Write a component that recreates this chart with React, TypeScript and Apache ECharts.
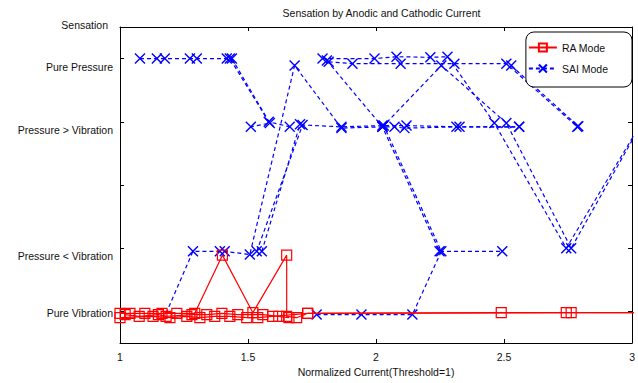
import React, { useEffect, useRef } from 'react';
import * as echarts from 'echarts';

// ---- axis definitions ----
const xMin = 1;
const xMax = 3;
const xInterval = 0.5;
const sensationTicks = [1, 2, 3, 4, 5];
const sensationLabels = ['Pure Vibration', 'Pressure < Vibration', '', 'Pressure > Vibration', 'Pure Pressure'];

// ---- RA Mode trials: [normalized current, sensation] ----
const raTrial1 = [
  [1.0, 0.97], [1.039, 0.97], [1.097, 0.97], [1.164, 0.97], [1.222, 0.97], [1.292, 0.97],
  [1.40, 1.89], [1.519, 0.98], [1.651, 1.89], [1.651, 0.92], [1.69, 0.9], [1.733, 0.97],
  [2.489, 0.98], [2.743, 0.98], [3.1, 0.98],
];
const raTrial2 = [
  [1.0, 0.9], [1.129, 0.92], [1.195, 0.9], [1.261, 0.92], [1.312, 0.9], [1.37, 0.92],
  [1.429, 0.92], [1.495, 0.9], [1.538, 0.9], [1.596, 0.92], [1.733, 0.97], [2.762, 0.98], [3.1, 0.98],
];
const raTrial3 = [
  [1.02, 0.95], [1.075, 0.92], [1.15, 0.95], [1.18, 0.92], [1.281, 0.95], [1.339, 0.95],
  [1.398, 0.97], [1.46, 0.95], [1.558, 0.95], [1.62, 0.92], [1.66, 0.9],
];

// ---- SAI Mode trials ----
const saiTrial1 = [
  [1.078, 5.0], [1.144, 5.0], [1.175, 5.0], [1.273, 5.0], [1.3, 5.0], [1.417, 5.0], [1.429, 5.0],
  [1.581, 4.0], [1.663, 3.92],
];
const saiTrial2 = [[1.437, 5.0], [1.585, 3.98], [1.511, 3.92]];
const saiTrial3 = [
  [1.18, 0.97], [1.285, 1.95], [1.39, 1.95], [1.409, 1.95], [1.507, 1.9], [1.682, 4.89],
  [1.865, 3.9], [2.025, 3.92], [2.072, 3.92], [2.111, 3.9], [2.314, 3.92], [2.559, 3.92],
];
const saiTrial4 = [
  [1.534, 1.95], [1.713, 3.95], [1.865, 3.92], [2.025, 3.94], [2.119, 3.94], [2.326, 3.92], [2.559, 3.92],
];
const saiTrial5 = [[1.554, 1.95], [1.703, 3.96]];
const saiTrial6 = [
  [1.791, 5.0], [1.994, 5.0], [2.08, 5.03], [2.212, 5.02], [2.279, 5.03], [2.462, 3.98], [2.743, 2.0], [3.03, 3.94],
];
const saiTrial7 = [
  [1.815, 4.95], [1.908, 4.92], [2.096, 4.92], [2.306, 4.92], [2.509, 4.92], [2.786, 3.92],
];
const saiTrial8 = [[1.808, 4.97], [2.025, 3.92], [2.248, 1.95], [2.493, 1.95]];
const saiTrial9 = [[2.528, 4.89], [2.79, 3.93]];
const saiTrial10 = [
  [1.768, 0.95], [1.943, 0.95], [2.142, 0.95], [2.255, 1.95], [2.03, 3.94], [2.255, 4.89],
  [2.509, 3.98], [2.762, 2.0], [3.03, 3.92],
];

const raTrials = [raTrial1, raTrial2, raTrial3];
const saiTrials = [saiTrial1, saiTrial2, saiTrial3, saiTrial4, saiTrial5, saiTrial6, saiTrial7, saiTrial8, saiTrial9, saiTrial10];

const FONT = 'Liberation Sans, Arial, Helvetica, sans-serif';
const RED = '#ff0000';
const BLUE = '#0000ff';
const X_SYMBOL = 'path://M0,0L10,10M10,0L0,10';

export default function App() {
  const ref = useRef<HTMLDivElement>(null);

  useEffect(() => {
    if (!ref.current) return;
    const chart = echarts.init(ref.current, undefined, { renderer: 'svg' });

    const saiSeries = saiTrials.map((trial, ti) => ({
      type: 'line',
      name: 'SAI Mode',
      data: trial.map((p, pi) =>
        ti === 2 && pi === 0 ? { value: p, symbol: 'none' } : p
      ),
      symbol: X_SYMBOL,
      symbolSize: 10,
      showSymbol: true,
      clip: true,
      lineStyle: { color: BLUE, width: 1.2, type: [4, 3] },
      itemStyle: { color: 'rgba(0,0,0,0)', borderColor: BLUE, borderWidth: 1.4 },
      emphasis: { disabled: true },
      z: 2,
    }));

    const raSeries = raTrials.map((trial) => ({
      type: 'line',
      name: 'RA Mode',
      data: trial,
      symbol: 'rect',
      symbolSize: 10,
      showSymbol: true,
      clip: true,
      lineStyle: { color: RED, width: 1.2 },
      itemStyle: { color: 'rgba(0,0,0,0)', borderColor: RED, borderWidth: 1.2 },
      emphasis: { disabled: true },
      z: 3,
    }));

    const labelRich: Record<string, any> = {
      lo: { fontFamily: FONT, fontSize: 10.5, color: '#111', padding: [4, 0, 0, 0] },
      hi: { fontFamily: FONT, fontSize: 10.5, color: '#111', padding: [16, 0, 0, 0] },
    };

    chart.setOption({
      animation: false,
      backgroundColor: '#fff',
      title: {
        text: 'Sensation by Anodic and Cathodic Current',
        left: 376.5,
        textAlign: 'center',
        top: 2,
        textStyle: { fontFamily: FONT, fontSize: 10.5, fontWeight: 'normal', color: '#111' },
      },
      legend: {
        data: ['RA Mode', 'SAI Mode'],
        orient: 'vertical',
        right: 6,
        top: 32,
        itemWidth: 28,
        itemHeight: 10,
        itemGap: 10,
        padding: [10, 24, 13, 2],
        backgroundColor: '#fff',
        borderColor: '#000',
        borderWidth: 1,
        borderRadius: 8,
        textStyle: { fontFamily: FONT, fontSize: 10.5, color: '#111' },
        selectedMode: false,
      },
      grid: { left: 120, right: 5, top: 27, bottom: 40, containLabel: false },
      xAxis: [
        {
          type: 'value',
          min: xMin,
          max: xMax,
          interval: xInterval,
          position: 'bottom',
          name: 'Normalized Current(Threshold=1)',
          nameLocation: 'middle',
          nameGap: 29,
          nameTextStyle: { fontFamily: FONT, fontSize: 10.5, color: '#111', verticalAlign: 'middle' },
          axisLine: { lineStyle: { color: '#000', width: 1 } },
          axisTick: { inside: true, length: 4, lineStyle: { color: '#000' } },
          axisLabel: { margin: 8, fontFamily: FONT, fontSize: 10.5, color: '#111' },
          splitLine: { show: false },
        },
        {
          type: 'value',
          min: xMin,
          max: xMax,
          interval: xInterval,
          position: 'top',
          axisLine: { lineStyle: { color: '#000', width: 1 } },
          axisTick: { inside: true, length: 4, lineStyle: { color: '#000' } },
          axisLabel: { show: false },
          splitLine: { show: false },
        },
      ],
      yAxis: [
        {
          type: 'value',
          min: 0.5,
          max: 5.5,
          position: 'left',
          name: 'Sensation',
          nameLocation: 'end',
          nameGap: 2,
          nameTextStyle: {
            fontFamily: FONT,
            fontSize: 10.5,
            color: '#111',
            align: 'right',
            verticalAlign: 'middle',
            padding: [0, 12, 0, 0],
          },
          axisLine: { show: true, lineStyle: { color: '#000', width: 1 } },
          axisTick: { show: true, inside: true, length: 4, customValues: sensationTicks, lineStyle: { color: '#000' } },
          axisLabel: {
            margin: 7,
            customValues: sensationTicks,
            formatter: (v: number) => {
              const idx = sensationTicks.indexOf(Math.round(v));
              const label = idx >= 0 ? sensationLabels[idx] : '';
              if (!label) return '';
              return idx === 0 ? `{lo|${label}}` : `{hi|${label}}`;
            },
            rich: labelRich,
          },
          splitLine: { show: false },
        },
        {
          type: 'value',
          min: 0.5,
          max: 5.5,
          position: 'right',
          axisLine: { show: true, lineStyle: { color: '#000', width: 1 } },
          axisTick: { show: true, inside: true, length: 4, customValues: sensationTicks, lineStyle: { color: '#000' } },
          axisLabel: { show: false },
          splitLine: { show: false },
        },
      ],
      series: [...saiSeries, ...raSeries],
    });

    return () => chart.dispose();
  }, []);

  return (
    <div
      ref={ref}
      style={{ position: 'fixed', left: 0, top: 0, width: 638, height: 383, background: '#fff' }}
    />
  );
}
